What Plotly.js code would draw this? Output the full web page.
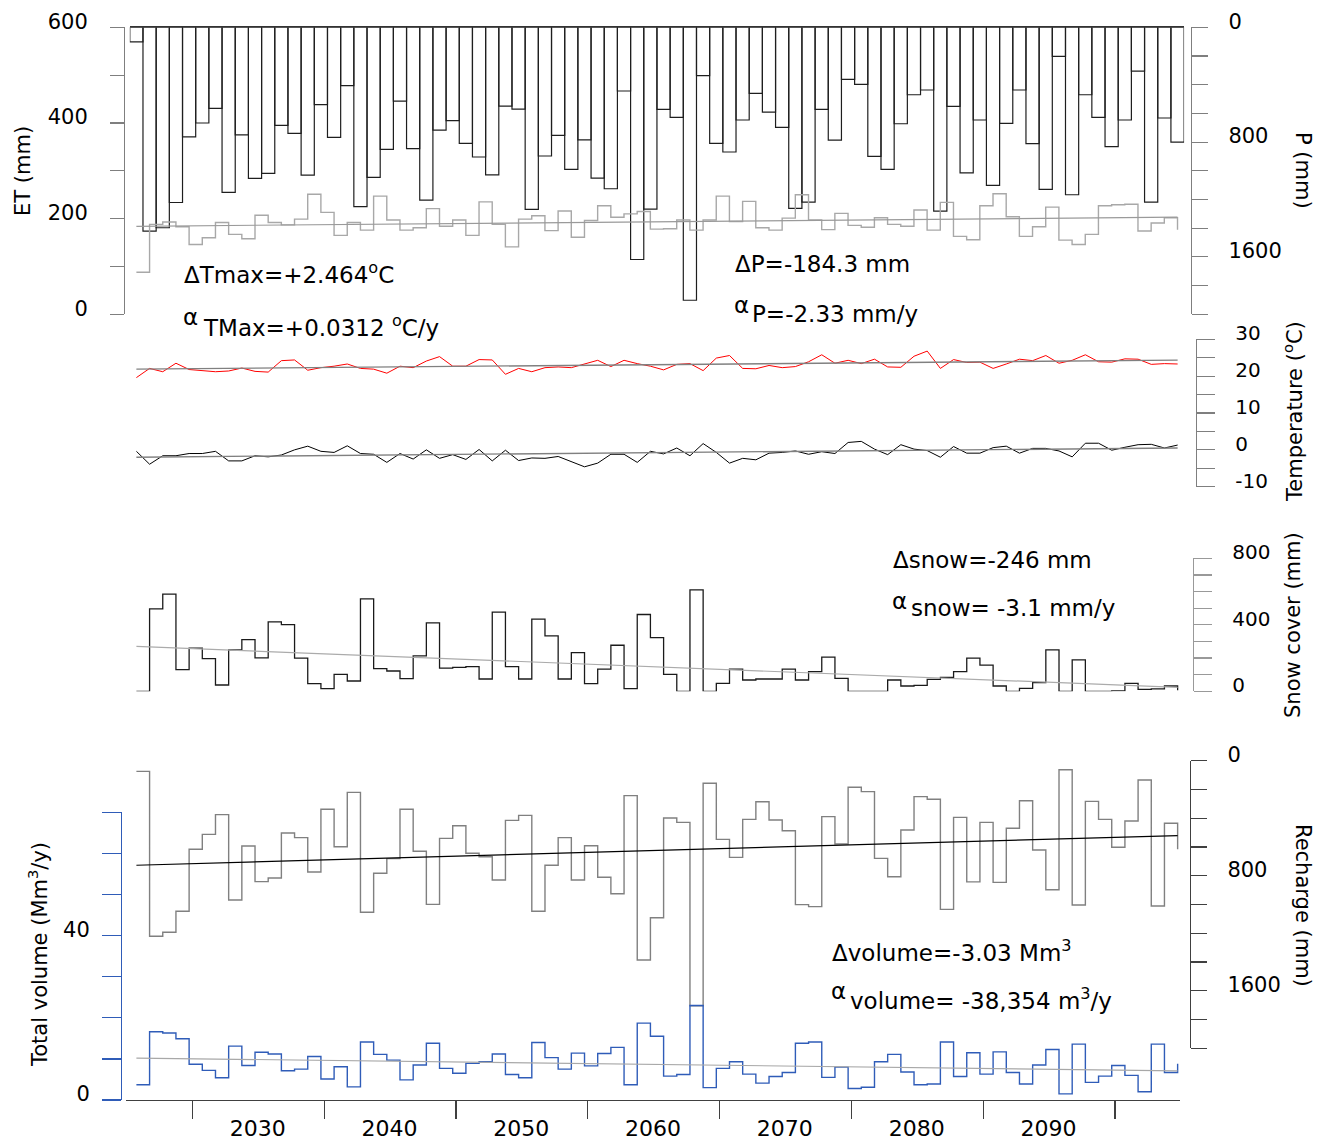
<!DOCTYPE html>
<html><head><meta charset="utf-8">
<script src="https://cdn.plot.ly/plotly-3.0.1.min.js"></script>
<style>html,body{margin:0;padding:0;background:#fff}#chart{width:1319px;height:1140px}</style>
</head><body><div id="chart"></div>
<script>
const years = [2021,2022,2023,2024,2025,2026,2027,2028,2029,2030,
  2031,2032,2033,2034,2035,2036,2037,2038,2039,2040,
  2041,2042,2043,2044,2045,2046,2047,2048,2049,2050,
  2051,2052,2053,2054,2055,2056,2057,2058,2059,2060,
  2061,2062,2063,2064,2065,2066,2067,2068,2069,2070,
  2071,2072,2073,2074,2075,2076,2077,2078,2079,2080,
  2081,2082,2083,2084,2085,2086,2087,2088,2089,2090,
  2091,2092,2093,2094,2095,2096,2097,2098,2099,2100];

const precipitation = [102,1421,1397,1221,763,667,565,1151,749,1053,
  1018,684,739,1030,539,767,407,1249,1046,851,
  514,846,1204,716,651,809,904,1028,549,570,
  1269,897,753,990,784,1051,1125,444,1618,1267,
  572,628,1902,337,809,869,646,460,591,698,
  1262,1218,572,786,363,398,900,990,672,470,
  437,1281,551,1014,646,1102,670,437,811,1130,
  202,1167,470,628,832,646,305,1218,632,800];

const evapotranspiration = [88,188,193,183,146,160,192,167,158,207,
  192,187,199,251,213,165,192,176,247,197,
  176,181,221,184,197,165,235,188,141,199,
  206,175,216,161,196,227,203,210,215,178,
  179,197,176,197,247,194,236,181,176,201,
  250,197,177,211,186,182,202,188,184,218,
  176,234,163,156,227,252,204,163,183,224,
  155,146,167,227,229,230,174,191,202,177];

const tMax = [19.6,22.1,21.2,23.5,21.8,21.4,21.2,21.4,22.2,21.3,
  21.1,24.2,24.4,21.6,22.3,22.7,23.3,22.1,21.9,20.8,
  22.7,22.3,24.1,25.3,22.7,22.7,24.5,24.4,20.5,22.1,
  21.2,22.3,22.5,22.3,23.2,24.3,22.6,24.3,23.4,22.7,
  21.7,23.2,23.4,21.5,24.9,25.6,22.1,22.0,22.9,22.3,
  22.6,23.9,25.8,23.5,24.3,23.4,24.6,22.5,22.4,25.4,
  26.8,22.1,24.5,23.7,23.8,22.1,23.3,24.6,24.2,25.6,
  23.5,24.3,25.8,23.9,23.8,24.7,24.6,23.2,23.4,23.3];

const tMin = [-0.4,-3.9,-1.6,-1.6,-1.0,-1.0,-0.4,-3.0,-3.0,-1.6,
  -1.9,-1.4,0.0,1.0,-0.4,-0.7,1.1,-1.0,-1.2,-3.4,
  -1.0,-2.5,0.0,-2.3,-1.3,-2.6,0.1,-3.0,-0.1,-2.9,
  -2.2,-2.3,-1.8,-3.1,-4.6,-3.6,-1.2,-1.2,-3.4,-0.4,
  -1.1,0.5,-1.6,1.7,-0.7,-3.6,-2.3,-2.7,-0.9,-0.7,
  -0.3,-1.2,-0.5,-1.0,2.0,2.3,0.2,-1.3,1.4,0.2,
  -0.2,-2.0,0.9,-0.9,-0.9,0.6,1.0,-0.9,0.4,0.4,
  -0.3,-1.9,1.8,1.8,-0.1,0.7,1.4,1.5,0.5,1.3];

const snowCover = [0,496,584,130,259,197,38,249,311,201,
  417,401,199,46,16,102,62,556,136,122,
  76,213,411,140,144,148,74,476,148,74,
  434,333,74,233,46,133,277,16,462,323,
  102,0,610,0,48,133,68,74,74,133,
  68,118,205,78,0,0,0,68,32,36,
  72,84,118,199,158,32,0,18,52,249,
  0,189,0,0,2,48,12,15,32,6];

const recharge = [74,1221,1193,1047,616,512,375,969,593,841,
  816,503,535,774,338,598,220,1054,783,681,
  338,630,999,540,452,644,668,830,415,380,
  1047,727,535,830,591,811,925,243,1386,1092,
  398,429,1704,157,547,672,408,285,412,487,
  1001,1015,389,579,185,215,679,807,482,250,
  268,1034,394,843,429,846,470,278,621,897,
  63,1003,283,408,602,419,134,1010,435,616];

const totalVolume = [3.7,16.6,16.3,14.9,8.7,7.2,5.4,13.1,8.4,11.6,
  11.2,7.1,7.5,10.6,5.1,8.1,3.2,14.1,11.1,9.7,
  4.9,8.5,13.8,7.7,6.5,8.9,9.3,11.2,6.2,5.4,
  14.0,10.3,7.5,11.4,8.3,11.3,12.8,3.7,18.7,15.5,
  5.8,6.2,23.0,3.0,7.7,9.3,6.3,4.1,5.7,6.7,
  13.8,14.1,5.5,8.0,2.8,3.1,9.3,11.1,6.8,3.7,
  3.9,14.1,5.7,11.5,6.3,11.7,6.7,3.9,8.5,12.3,
  1.5,13.6,4.3,5.8,8.4,6.0,2.0,13.6,6.7,8.8];

// linear trends (start, end) over the period
const trendYears = [2021, 2100];
const etTrend = [184, 203];
const tMaxTrend = [21.9, 24.35];
const tMinTrend = [-2.0, 0.5];
const snowTrend = [270, 24];
const rechargeTrend = [727, 521];
const volumeTrend = [10.2, 7.1];

const yearLabels = ['2030','2040','2050','2060','2070','2080','2090'];
const yearLabelValues = [2030.2,2040.2,2050.2,2060.2,2070.2,2080.2,2090.2];
const tempTickValues = [-10,0,10,20,30];
const tempTickLabels = ['-10','0','10','20','30'];

const FONT = 'DejaVu Sans';
const W = 1319, H = 1140;
const px = v => v / W;
const py = v => 1 - v / H;

const traces = [
  {type:'bar', x:years, y:precipitation, xaxis:'x2', yaxis:'y', name:'P',
   marker:{color:'rgba(255,255,255,0)', line:{color:'#1e1e1e', width:1.2}}, hoverinfo:'x+y'},
  {type:'scatter', mode:'lines', x:years, y:evapotranspiration, xaxis:'x2', yaxis:'y2', name:'ET',
   line:{color:'#a8a8a8', width:1.4, shape:'hv'}},
  {type:'scatter', mode:'lines', x:trendYears, y:etTrend, xaxis:'x2', yaxis:'y2', name:'ET trend',
   line:{color:'#9a9a9a', width:1.2}},
  {type:'scatter', mode:'lines', x:years, y:tMax, xaxis:'x', yaxis:'y3', name:'Tmax',
   line:{color:'#ff0000', width:1}},
  {type:'scatter', mode:'lines', x:trendYears, y:tMaxTrend, xaxis:'x', yaxis:'y3', name:'Tmax trend',
   line:{color:'#808080', width:1.4}},
  {type:'scatter', mode:'lines', x:years, y:tMin, xaxis:'x', yaxis:'y3', name:'Tmin',
   line:{color:'#000000', width:1}},
  {type:'scatter', mode:'lines', x:trendYears, y:tMinTrend, xaxis:'x', yaxis:'y3', name:'Tmin trend',
   line:{color:'#808080', width:1.4}},
  {type:'scatter', mode:'lines', x:years, y:snowCover, xaxis:'x', yaxis:'y4', name:'Snow cover',
   line:{color:'#1a1a1a', width:1.3, shape:'hv'}},
  {type:'scatter', mode:'lines', x:trendYears, y:snowTrend, xaxis:'x', yaxis:'y4', name:'Snow trend',
   line:{color:'#ababab', width:1.2}},
  {type:'scatter', mode:'lines', x:years, y:recharge, xaxis:'x', yaxis:'y5', name:'Recharge',
   line:{color:'#808080', width:1.4, shape:'hv'}},
  {type:'scatter', mode:'lines', x:trendYears, y:rechargeTrend, xaxis:'x', yaxis:'y5', name:'Recharge trend',
   line:{color:'#000000', width:1.2}},
  {type:'scatter', mode:'lines', x:years, y:totalVolume, xaxis:'x', yaxis:'y6', name:'Total volume',
   line:{color:'#2f5cb8', width:1.4, shape:'hv'}},
  {type:'scatter', mode:'lines', x:trendYears, y:volumeTrend, xaxis:'x', yaxis:'y6', name:'Volume trend',
   line:{color:'#a8a8a8', width:1.2}}
];

const axisCommon = {showgrid:false, zeroline:false, showline:true, linecolor:'#7f7f7f', linewidth:1.2,
  ticks:'outside', tickcolor:'#7f7f7f', tickwidth:1.2, tickfont:{family:FONT, size:21, color:'#000'}};

const layout = {
  width: W, height: H,
  margin:{l:0, r:0, t:0, b:0},
  paper_bgcolor:'#ffffff', plot_bgcolor:'rgba(0,0,0,0)',
  showlegend:false, bargap:0,
  font:{family:FONT, size:21, color:'#000'},
  xaxis:{domain:[px(126), px(1180)], range:[2020.211, 2100.180], anchor:'y6',
    showgrid:false, zeroline:false, showline:true, linecolor:'#404040', linewidth:1.3,
    tickmode:'array', tickvals:yearLabelValues, ticktext:yearLabels, ticks:'',
    ticklabelstandoff:8, tickfont:{family:FONT, size:22, color:'#000'},
    minor:{tickmode:'array', tickvals:[2025.25,2035.25,2045.25,2055.25,2065.25,2075.25,2085.25,2095.25],
      ticks:'outside', ticklen:18, tickcolor:'#404040', tickwidth:1.3}},
  xaxis2:{domain:[px(129.8), px(1184.1)], range:[2020.5, 2100.5], anchor:'y', side:'top',
    showgrid:false, zeroline:false, showline:true, linecolor:'#333333', linewidth:1.3,
    ticks:'', showticklabels:false},
  yaxis: Object.assign({}, axisCommon, {domain:[py(314.3), py(27.3)], range:[2000, 0],
    anchor:'free', position:px(1191), side:'right', tickmode:'array', tickvals:[0,800,1600],
    ticklen:16, ticklabelstandoff:16, ticklabelshift:6,
    minor:{dtick:200, tick0:0, ticks:'outside', ticklen:16, tickcolor:'#7f7f7f', tickwidth:1.2}}),
  yaxis2: Object.assign({}, axisCommon, {overlaying:'y', range:[0, 600],
    anchor:'free', position:px(124), side:'left', tickmode:'array', tickvals:[0,200,400,600],
    ticklen:14, ticklabelstandoff:18, ticklabelshift:-6,
    minor:{dtick:100, tick0:0, ticks:'outside', ticklen:14, tickcolor:'#7f7f7f', tickwidth:1.2}}),
  yaxis3: Object.assign({}, axisCommon, {domain:[py(486.7), py(339.3)], range:[-10, 30],
    anchor:'free', position:px(1196), side:'right', tickmode:'array', tickvals:tempTickValues,
    ticktext:tempTickLabels,
    ticklen:18, ticklabelstandoff:16, ticklabelshift:-6, tickfont:{family:FONT, size:20, color:'#000'},
    minor:{dtick:5, tick0:0, ticks:'outside', ticklen:18, tickcolor:'#7f7f7f', tickwidth:1.2}}),
  yaxis4: Object.assign({}, axisCommon, {domain:[py(691.3), py(558.3)], range:[0, 800],
    anchor:'free', position:px(1193), side:'right', tickmode:'array', tickvals:[0,400,800],
    ticklen:18, ticklabelstandoff:16, ticklabelshift:-6, tickfont:{family:FONT, size:20, color:'#000'},
    linecolor:'#999', tickcolor:'#999',
    minor:{dtick:100, tick0:0, ticks:'outside', ticklen:18, tickcolor:'#999', tickwidth:1.2}}),
  yaxis5: Object.assign({}, axisCommon, {domain:[py(1048.3), py(760.7)], range:[2000, 0],
    anchor:'free', position:px(1190), side:'right', tickmode:'array', tickvals:[0,800,1600],
    ticklen:16, ticklabelstandoff:16, ticklabelshift:6, linecolor:'#404040', tickcolor:'#404040',
    minor:{dtick:200, tick0:0, ticks:'outside', ticklen:16, tickcolor:'#404040', tickwidth:1.2}}),
  yaxis6: Object.assign({}, axisCommon, {domain:[py(1100), py(812.3)], range:[0, 70],
    anchor:'free', position:px(121), side:'left', tickmode:'array', tickvals:[0,40],
    ticklen:19, ticklabelstandoff:8, ticklabelshift:-6, linecolor:'#2f5cb8', tickcolor:'#2f5cb8',
    minor:{dtick:10, tick0:0, ticks:'outside', ticklen:19, tickcolor:'#2f5cb8', tickwidth:1.2}}),
  annotations: []
};

function note(text, x, y) {
  layout.annotations.push({text:text, x:px(x), y:py(y), xref:'paper', yref:'paper',
    xanchor:'left', yanchor:'middle', showarrow:false,
    font:{family:FONT, size:23, color:'#000'}});
}
function vtitle(text, x, y, angle) {
  layout.annotations.push({text:text, x:px(x), y:py(y), xref:'paper', yref:'paper',
    xanchor:'center', yanchor:'middle', showarrow:false, textangle:angle,
    font:{family:FONT, size:21, color:'#000'}});
}

note('ΔTmax=+2.464<sup>o</sup>C', 182, 273);
note('α', 181, 317);
note('TMax=+0.0312 <sup>o</sup>C/y', 201, 326);
note('ΔP=-184.3 mm', 733, 264);
note('α', 732, 305);
note('P=-2.33 mm/y', 750, 314);
note('Δsnow=-246 mm', 891, 560);
note('α', 890, 601);
note('snow= -3.1 mm/y', 909, 608);
note('Δvolume=-3.03 Mm<sup>3</sup>', 830, 951);
note('α', 829, 991);
note('volume= -38,354 m<sup>3</sup>/y', 848, 999);

vtitle('ET (mm)', 23, 171, -90);
vtitle('P (mm)', 1303, 170, 90);
vtitle('Temperature (<sup>o</sup>C)', 1293, 412, -90);
vtitle('Snow cover (mm)', 1293, 625, -90);
vtitle('Total volume (Mm<sup>3</sup>/y)', 38, 955, -90);
vtitle('Recharge (mm)', 1303, 905, 90);

Plotly.newPlot('chart', traces, layout, {displayModeBar:false, staticPlot:true});
</script>
</body></html>
